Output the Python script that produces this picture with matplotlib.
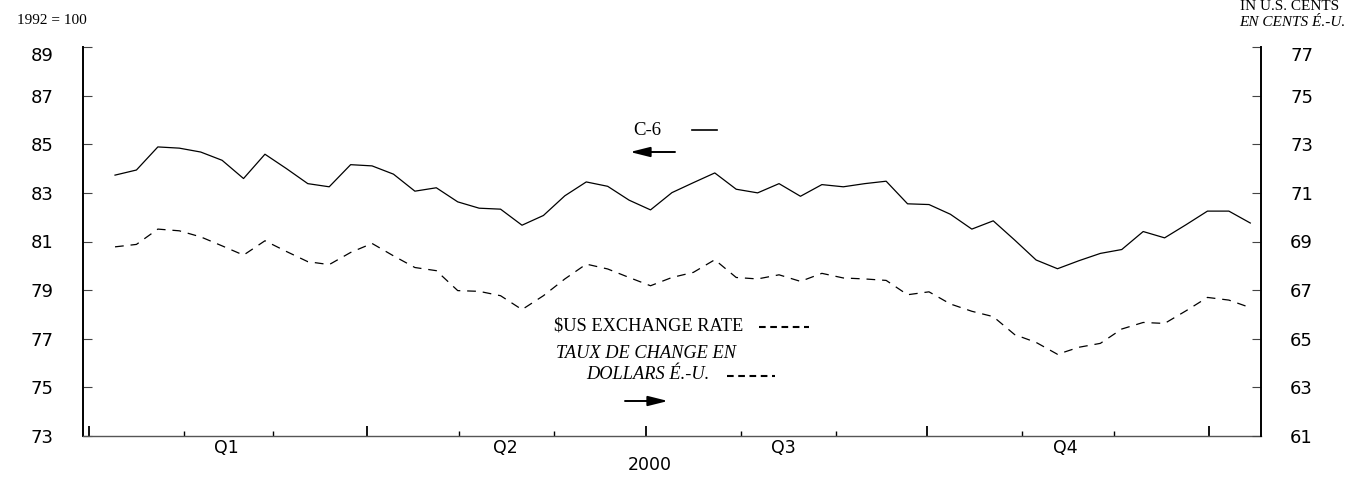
import numpy as np
import pandas as pd
import matplotlib
matplotlib.use("Agg")
import matplotlib.pyplot as plt
import matplotlib.dates as mdates
import matplotlib.transforms as mtransforms
from matplotlib.lines import Line2D

# weekly readings, 2000 (left axis: C-6 index, 1992 = 100; right axis: US cents)
c6_index = [83.73, 83.94, 84.89, 84.84, 84.68, 84.34, 83.59, 84.59, 84.00, 83.38,
            83.25, 84.16, 84.11, 83.77, 83.07, 83.21, 82.63, 82.37, 82.33, 81.67,
            82.07, 82.88, 83.45, 83.27, 82.70, 82.30, 83.01, 83.42, 83.82, 83.15,
            83.00, 83.38, 82.86, 83.34, 83.25, 83.38, 83.48, 82.55, 82.52, 82.12,
            81.51, 81.85, 81.06, 80.24, 79.88, 80.21, 80.51, 80.67, 81.41, 81.15,
            81.69, 82.25, 82.25, 81.76]
usd_cents = [68.78, 68.88, 69.51, 69.44, 69.19, 68.82, 68.44, 69.03, 68.59, 68.17,
             68.05, 68.55, 68.92, 68.41, 67.93, 67.80, 66.98, 66.95, 66.77, 66.20,
             66.77, 67.46, 68.07, 67.87, 67.52, 67.18, 67.52, 67.73, 68.25, 67.52,
             67.46, 67.63, 67.36, 67.69, 67.50, 67.46, 67.40, 66.81, 66.93, 66.43,
             66.13, 65.91, 65.17, 64.85, 64.36, 64.65, 64.81, 65.40, 65.67, 65.63,
             66.15, 66.70, 66.59, 66.28]
weeks = pd.date_range("2000-01-09 12:00", periods=len(c6_index), freq="7D")

left_ticks = [73, 75, 77, 79, 81, 83, 85, 87, 89]
right_ticks = [61, 63, 65, 67, 69, 71, 73, 75, 77]
quarter_labels = ["Q1", "Q2", "Q3", "Q4"]
quarter_mids = pd.to_datetime(["2000-02-15", "2000-05-16", "2000-08-15", "2000-11-15"])

W, H = 1364, 478
SERIF = ["Liberation Serif", "DejaVu Serif"]
SANS = ["DejaVu Sans"]

plt.rcParams["font.family"] = SANS

fig = plt.figure(figsize=(W / 100, H / 100), dpi=100)
ax = fig.add_axes([83 / W, 1 - 436 / H, (1261 - 83) / W, (436 - 47) / H])
ax2 = ax.twinx()

ax.plot(weeks, c6_index, color="black", lw=0.9)
ax2.plot(weeks, usd_cents, color="black", lw=0.9, linestyle=(0, (7, 5.5)))

x0 = mdates.date2num(pd.Timestamp("2000-01-01"))
x1 = mdates.date2num(pd.Timestamp("2001-01-01"))
ax.set_xlim(x0 - 1.96, x1 + 17)
ax.set_ylim(73, 89)
ax2.set_ylim(61, 77)

# spines
for a in (ax, ax2):
    a.spines["top"].set_visible(False)
ax.spines["right"].set_visible(False)
ax2.spines["left"].set_visible(False)
ax2.spines["bottom"].set_visible(False)
ax.spines["left"].set_linewidth(1.4)
ax2.spines["right"].set_linewidth(1.4)
ax.spines["bottom"].set_linewidth(1.0)
ax.spines["bottom"].set_color("#555555")

# x axis: quarter ticks long, month ticks short, no labels
ax.xaxis.set_major_locator(mdates.MonthLocator(bymonth=[1, 4, 7, 10]))
ax.xaxis.set_minor_locator(mdates.MonthLocator())
ax.tick_params(axis="x", which="major", direction="in", length=7.5, width=1.3,
               labelbottom=False)
ax.tick_params(axis="x", which="minor", direction="in", length=3.5, width=1.0)

# y axes
ax.set_yticks(left_ticks, [str(t) for t in left_ticks])
ax2.set_yticks(right_ticks, [str(t) for t in right_ticks])
for a in (ax, ax2):
    a.tick_params(axis="y", direction="in", length=6.5, width=0.8, pad=21,
                  labelsize=13, color="#444444")
ax.yaxis.get_major_ticks()[-1].label1.set_verticalalignment("top")
ax2.yaxis.get_major_ticks()[-1].label2.set_verticalalignment("top")

# quarter labels and year
blend = mtransforms.blended_transform_factory(ax.transData, ax.transAxes)
for lab, mid in zip(quarter_labels, quarter_mids):
    ax.text(mdates.date2num(mid), -0.031, lab, transform=blend, ha="center",
            va="center", fontsize=12.5)
ax.text((650 - 83) / 1178, -0.075, "2000", transform=ax.transAxes, ha="center",
        va="center", fontsize=12.5)


def fx(px):
    return px / W


def fy(py):
    return 1 - py / H


# header notes
fig.text(fx(17), fy(24), "1992 = 100", family=SERIF, fontsize=11, ha="left", va="baseline")
fig.text(fx(1240), fy(9.5), "IN U.S. CENTS", family=SERIF, fontsize=11, ha="left",
         va="baseline")
fig.text(fx(1239), fy(26), "EN CENTS É.-U.", family=SERIF, style="italic", fontsize=11,
         ha="left", va="baseline")

# C-6 key
fig.text(fx(633), fy(135), "C-6", family=SERIF, fontsize=13.5, ha="left", va="baseline")
fig.add_artist(Line2D([fx(692), fx(717)], [fy(130), fy(130)], transform=fig.transFigure,
                      color="black", lw=1.2))
ax.annotate("", xy=(630, H - 152), xytext=(675, H - 152), xycoords="figure pixels",
            textcoords="figure pixels",
            arrowprops=dict(arrowstyle="-|>,head_length=0.8,head_width=0.2",
                            mutation_scale=15, lw=1.4, color="black",
                            shrinkA=0, shrinkB=0))

# exchange rate key
fig.text(fx(554), fy(331), "$US EXCHANGE RATE", family=SERIF, fontsize=13.2,
         ha="left", va="baseline")
fig.add_artist(Line2D([fx(759), fx(809)], [fy(327), fy(327)], transform=fig.transFigure,
                      color="black", lw=1.5, linestyle=(0, (3.2, 2.2))))
fig.text(fx(556), fy(358), "TAUX DE CHANGE EN", family=SERIF, style="italic",
         fontsize=13.2, ha="left", va="baseline")
fig.text(fx(586), fy(379), "DOLLARS É.-U.", family=SERIF, style="italic",
         fontsize=13.2, ha="left", va="baseline")
fig.add_artist(Line2D([fx(727), fx(775)], [fy(376), fy(376)], transform=fig.transFigure,
                      color="black", lw=1.5, linestyle=(0, (3.2, 2.2))))
ax.annotate("", xy=(668, H - 401), xytext=(625, H - 401), xycoords="figure pixels",
            textcoords="figure pixels",
            arrowprops=dict(arrowstyle="-|>,head_length=0.8,head_width=0.2",
                            mutation_scale=15, lw=1.4, color="black",
                            shrinkA=0, shrinkB=0))

fig.savefig("out.png", dpi=100, facecolor="white")
